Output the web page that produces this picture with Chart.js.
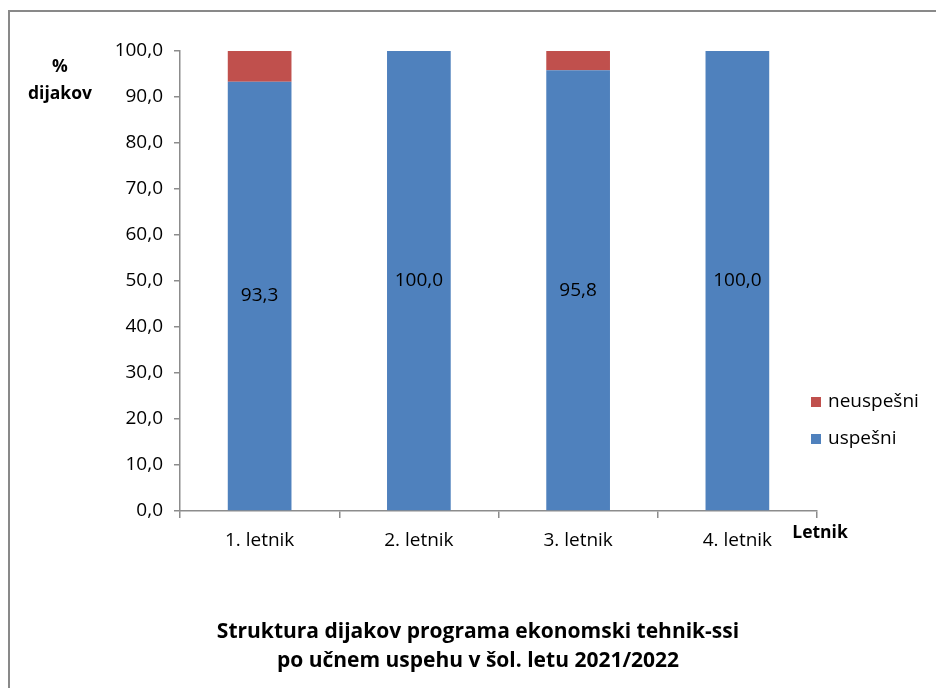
<!DOCTYPE html>
<html>
<head>
<meta charset="utf-8">
<script src="https://cdn.jsdelivr.net/npm/chart.js@4"></script>
<style>
  html, body { margin: 0; padding: 0; background: #fff; }
  #wrap { position: relative; width: 936px; height: 688px; }
</style>
</head>
<body>
<div id="wrap"><canvas id="chart" width="936" height="688"></canvas></div>
<script>
const categories = ['1. letnik', '2. letnik', '3. letnik', '4. letnik']
const uspesni = [93.3, 100.0, 95.8, 100.0]
const neuspesni = [6.7, 0.0, 4.2, 0.0]
const yTitle = ['%', 'dijakov']
const xTitle = 'Letnik'
const chartTitle = ['Struktura dijakov programa ekonomski tehnik-ssi', 'po učnem uspehu v šol. letu 2021/2022']

const FONT = '"Open Sans", sans-serif'
const AXIS = '#8c8c8c'

const fmt = (v) => v.toFixed(1).replace('.', ',')

const extras = {
    id: 'extras',
    beforeDraw(chart) {
        const ctx = chart.ctx
        ctx.save()
        ctx.fillStyle = '#fff'
        ctx.fillRect(0, 0, chart.width, chart.height)
        ctx.strokeStyle = '#898989'
        ctx.lineWidth = 2
        ctx.strokeRect(9, 11, 1200, 1200)
        ctx.restore()
    },
    afterDraw(chart) {
        const ctx = chart.ctx
        ctx.save()
        ctx.fillStyle = '#000'
        ctx.textAlign = 'center'
        ctx.textBaseline = 'middle'

        // labels in the blue segments
        ctx.font = '19px ' + FONT
        chart.getDatasetMeta(0).data.forEach((bar, i) => {
            const y = (bar.y + bar.base) / 2
            ctx.fillText(fmt(chart.data.datasets[0].data[i]), bar.x, y)
        })

        // axis titles
        ctx.font = 'bold 17.5px ' + FONT
        ctx.fillText(yTitle[0], 60, 67)
        ctx.fillText(yTitle[1], 60, 94)
        ctx.fillText(xTitle, 820, 533)

        // chart title
        ctx.font = 'bold 21px ' + FONT
        ctx.fillText(chartTitle[0], 478, 632)
        ctx.fillText(chartTitle[1], 478, 661)

        // legend, failed first
        ctx.textAlign = 'left'
        ctx.font = '19px ' + FONT
        const items = [1, 0]
        items.forEach((d, k) => {
            const ds = chart.data.datasets[d]
            const y = 402 + k * 37
            ctx.fillStyle = ds.backgroundColor
            ctx.fillRect(811, y - 5, 10, 10)
            ctx.fillStyle = '#000'
            ctx.fillText(ds.label, 828, y)
        })
        ctx.restore()
    }
}

new Chart('chart', {
    type: 'bar',
    data: {
        labels: categories,
        datasets: [
            { label: 'uspešni', data: uspesni, backgroundColor: '#4F81BD', borderWidth: 0 },
            { label: 'neuspešni', data: neuspesni, backgroundColor: '#C0504D', borderWidth: 0 }
        ]
    },
    options: {
        responsive: false,
        animation: false,
        layout: { padding: { left: 0, top: 51, right: 119, bottom: 0 } },
        datasets: { bar: { categoryPercentage: 1, barPercentage: 0.4 } },
        plugins: { legend: { display: false }, tooltip: { enabled: false } },
        scales: {
            x: {
                stacked: true,
                afterFit: (s) => { s.height = 177 },
                grid: { drawOnChartArea: false, color: AXIS, tickLength: 7, lineWidth: 1.5 },
                border: { color: AXIS, width: 1.5 },
                ticks: { color: '#000', padding: 11, font: { family: FONT, size: 19 } }
            },
            y: {
                stacked: true,
                min: 0,
                max: 100,
                afterFit: (s) => { s.width = 180 },
                grid: { drawOnChartArea: false, color: AXIS, tickLength: 6, lineWidth: 1.5 },
                border: { color: AXIS, width: 1.5 },
                ticks: {
                    stepSize: 10,
                    color: '#000',
                    padding: 11,
                    font: { family: FONT, size: 19 },
                    callback: (v) => fmt(v)
                }
            }
        }
    },
    plugins: [extras]
})
</script>
</body>
</html>
